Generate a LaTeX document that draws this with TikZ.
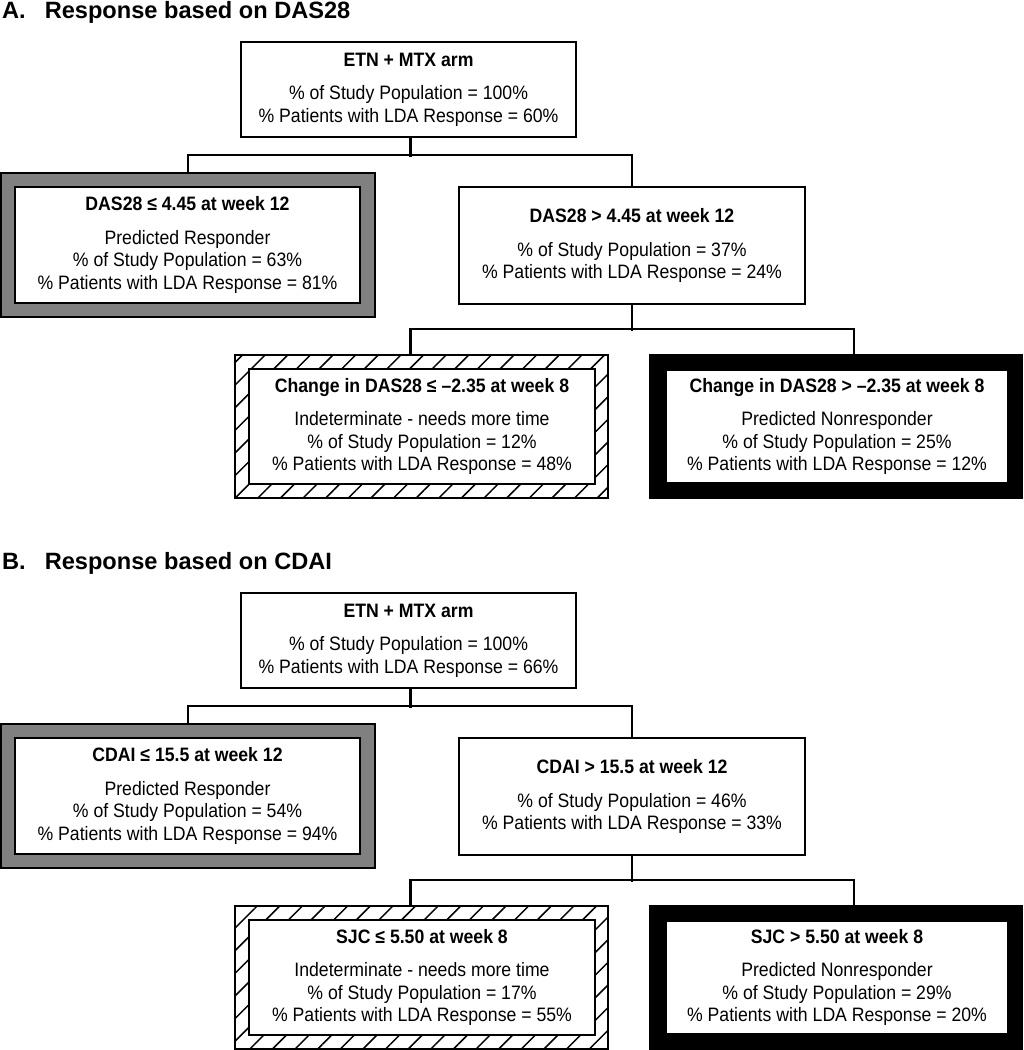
\documentclass[tikz,border=0pt]{standalone}
\usepackage{fontspec}
\setmainfont{Liberation Sans}
\newfontfamily\boxfont[FakeStretch=0.91]{Liberation Sans}
\usetikzlibrary{patterns.meta}

\definecolor{bandgray}{RGB}{128,128,128}

\tikzset{
  box/.style={draw, line width=1.8pt, fill=white, align=center, inner sep=0pt,
    font=\boxfont\fontsize{19.4}{22.5}\selectfont},
  frame/.style={draw, line width=1.8pt, inner sep=0pt},
  hatch/.style={pattern={Lines[angle=45,distance=16pt,line width=1.5pt]}},
  link/.style={line width=2.2pt},
  paneltitle/.style={anchor=base west, inner sep=0pt, font=\fontsize{23.6}{27}\selectfont\bfseries},
}
\newcommand{\hd}[1]{\textbf{#1}\\[11pt]}

\begin{document}
\begin{tikzpicture}[x=1pt, y=-1pt]
  \useasboundingbox (0,0) rectangle (1024,1050);

  % A. DAS28
  \node[paneltitle] (titleA) at (2,18) {A.\hspace{19pt}Response based on DAS28};
  \node[box, minimum width=335pt, minimum height=95pt] (rootA) at (408.5,89.5)
    {\hd{ETN + MTX arm}\% of Study Population = 100\%\\\% Patients with LDA Response = 60\%};
  \node[frame, fill=bandgray, minimum width=374pt, minimum height=144pt] (respAf) at (188,245) {};
  \node[box, minimum width=345pt, minimum height=116pt] (respA) at (187.5,245)
    {\hd{DAS28 ≤ 4.45 at week 12}Predicted Responder\\\% of Study Population = 63\%\\\% Patients with LDA Response = 81\%};
  \node[box, minimum width=346pt, minimum height=117pt] (midA) at (632,245.5)
    {\hd{DAS28 > 4.45 at week 12}\% of Study Population = 37\%\\\% Patients with LDA Response = 24\%};
  \node[frame, hatch, minimum width=373pt, minimum height=143pt] (indAf) at (421.5,426.5) {};
  \node[box, minimum width=346pt, minimum height=115pt] (indA) at (422,426.5)
    {\hd{Change in DAS28 ≤ –2.35 at week 8}Indeterminate - needs more time\\\% of Study Population = 12\%\\\% Patients with LDA Response = 48\%};
  \node[frame, fill=black, minimum width=372pt, minimum height=143pt] (nonAf) at (836,426.5) {};
  \node[box, minimum width=342pt, minimum height=113pt] (nonA) at (837,426.5)
    {\hd{Change in DAS28 > –2.35 at week 8}Predicted Nonresponder\\\% of Study Population = 25\%\\\% Patients with LDA Response = 12\%};

  \draw[link] ([xshift=2pt]rootA.south) -- ++(0,19);
  \draw[link] (respAf.north) -- ++(0,-17) -| (midA.north);
  \draw[link] (midA.south) -- ++(0,26);
  \draw[link] ([xshift=-11pt]indAf.north) -- ++(0,-25) -| ([xshift=18pt]nonAf.north);

  % B. CDAI
  \begin{scope}[yshift=-551pt]
    \node[paneltitle] (titleB) at (2,18) {B.\hspace{19pt}Response based on CDAI};
    \node[box, minimum width=335pt, minimum height=95pt] (rootB) at (408.5,89.5)
      {\hd{ETN + MTX arm}\% of Study Population = 100\%\\\% Patients with LDA Response = 66\%};
    \node[frame, fill=bandgray, minimum width=374pt, minimum height=144pt] (respBf) at (188,245) {};
    \node[box, minimum width=345pt, minimum height=116pt] (respB) at (187.5,245)
      {\hd{CDAI ≤ 15.5 at week 12}Predicted Responder\\\% of Study Population = 54\%\\\% Patients with LDA Response = 94\%};
    \node[box, minimum width=346pt, minimum height=117pt] (midB) at (632,245.5)
      {\hd{CDAI > 15.5 at week 12}\% of Study Population = 46\%\\\% Patients with LDA Response = 33\%};
    \node[frame, hatch, minimum width=373pt, minimum height=143pt] (indBf) at (421.5,426.5) {};
    \node[box, minimum width=346pt, minimum height=115pt] (indB) at (422,426.5)
      {\hd{SJC ≤ 5.50 at week 8}Indeterminate - needs more time\\\% of Study Population = 17\%\\\% Patients with LDA Response = 55\%};
    \node[frame, fill=black, minimum width=372pt, minimum height=143pt] (nonBf) at (836,426.5) {};
    \node[box, minimum width=342pt, minimum height=113pt] (nonB) at (837,426.5)
      {\hd{SJC > 5.50 at week 8}Predicted Nonresponder\\\% of Study Population = 29\%\\\% Patients with LDA Response = 20\%};

    \draw[link] ([xshift=2pt]rootB.south) -- ++(0,19);
    \draw[link] (respBf.north) -- ++(0,-17) -| (midB.north);
    \draw[link] (midB.south) -- ++(0,26);
    \draw[link] ([xshift=-11pt]indBf.north) -- ++(0,-25) -| ([xshift=18pt]nonBf.north);
  \end{scope}
\end{tikzpicture}
\end{document}
